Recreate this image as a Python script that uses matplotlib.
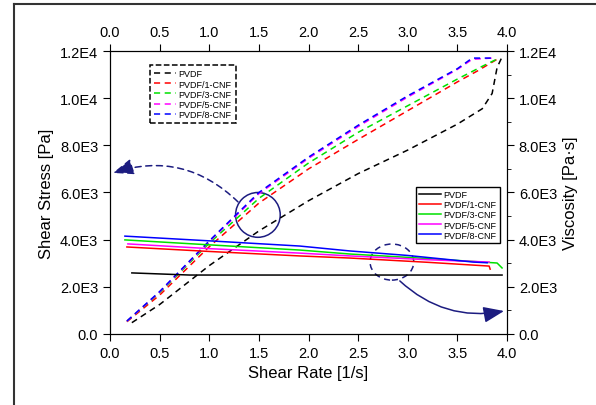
import matplotlib

matplotlib.use("Agg")

import matplotlib.pyplot as plt
from matplotlib.lines import Line2D
from matplotlib.patches import Ellipse

plt.rcParams["font.family"] = ["Liberation Sans", "DejaVu Sans"]

labels = ["PVDF", "PVDF/1-CNF", "PVDF/3-CNF", "PVDF/5-CNF", "PVDF/8-CNF"]
colors = ["black", "#ff0000", "#00e000", "#ff00ff", "#0000ff"]

# shear stress (left axis, dashed)
stress_rate = [
    [0.22, 0.5, 1.0, 1.5, 2.0, 2.5, 3.0, 3.5, 3.75, 3.85, 3.9, 3.95],
    [0.17, 0.5, 1.0, 1.5, 2.0, 2.5, 3.0, 3.5, 3.7, 3.9],
    [0.17, 0.5, 1.0, 1.5, 2.0, 2.5, 3.0, 3.5, 3.75, 3.92],
    [0.17, 0.5, 1.0, 1.5, 2.0, 2.5, 3.0, 3.5, 3.65, 3.85],
    [0.17, 0.5, 1.0, 1.5, 2.0, 2.5, 3.0, 3.5, 3.65, 3.85],
]
stress = [
    [480, 1250, 2900, 4370, 5650, 6800, 7800, 8900, 9550, 10200, 11300, 11750],
    [520, 1650, 3700, 5550, 7000, 8250, 9470, 10690, 11150, 11650],
    [540, 1750, 3850, 5750, 7250, 8550, 9680, 10810, 11350, 11700],
    [540, 1780, 3920, 5950, 7450, 8800, 10050, 11220, 11650, 11700],
    [550, 1800, 3950, 6000, 7500, 8850, 10100, 11250, 11700, 11700],
]

# viscosity (right axis, solid)
visc_rate = [
    [0.22, 0.8, 2.0, 3.0, 3.95],
    [0.17, 1.0, 1.91, 2.42, 3.2, 3.82, 3.83],
    [0.15, 1.0, 1.91, 2.42, 3.2, 3.9, 3.95],
    [0.18, 1.0, 1.91, 2.42, 3.2, 3.82],
    [0.15, 1.0, 1.91, 2.42, 3.0, 3.66, 3.8],
]
viscosity = [
    [2590, 2500, 2500, 2500, 2500],
    [3690, 3500, 3310, 3220, 3040, 2880, 2750],
    [3990, 3780, 3560, 3390, 3200, 3010, 2800],
    [3820, 3620, 3430, 3310, 3150, 3050],
    [4150, 3950, 3730, 3520, 3330, 3050, 3020],
]

fig = plt.figure(figsize=(5.96, 4.06), dpi=100)
ax = fig.add_axes([0.1846, 0.1749, 0.6661, 0.697])
ax2 = ax.twinx()

for r, s, c in zip(stress_rate, stress, colors):
    ax.plot(r, s, color=c, lw=1.1, dashes=(4, 3))
for r, v, c in zip(visc_rate, viscosity, colors):
    ax2.plot(r, v, color=c, lw=1.1)

for a in (ax, ax2):
    a.set_xlim(0, 4)
    a.set_ylim(0, 12000)
ax.set_xticks([0, 0.5, 1.0, 1.5, 2.0, 2.5, 3.0, 3.5, 4.0])
yt = [0, 2000, 4000, 6000, 8000, 10000, 12000]
ylab = ["0.0", "2.0E3", "4.0E3", "6.0E3", "8.0E3", "1.0E4", "1.2E4"]
ax.set_yticks(yt, ylab)
ax2.set_yticks(yt, ylab)
ax2.set_yticks(range(1000, 12000, 2000), minor=True)
ax.tick_params(axis="x", top=True, labeltop=True, direction="out", length=5, labelsize=10.5)
ax.tick_params(axis="y", direction="out", length=5, labelsize=10.5)
ax2.tick_params(axis="y", which="both", direction="out", labelsize=10.5)
ax2.tick_params(axis="y", which="major", length=5)
ax2.tick_params(axis="y", which="minor", length=3)

ax.set_xlabel("Shear Rate [1/s]", fontsize=12)
ax.set_ylabel("Shear Stress [Pa]", fontsize=12)
ax2.set_ylabel("Viscosity [Pa·s]", fontsize=12)

dash_handles = [Line2D([], [], color=c, lw=1.1, dashes=(4, 3)) for c in colors]
leg1 = ax.legend(dash_handles, labels, loc="upper left", bbox_to_anchor=(0.09, 0.965),
                 fontsize=6.5, handlelength=2.4, handletextpad=0.3, labelspacing=0.12,
                 borderpad=0.45, fancybox=False, framealpha=1, edgecolor="black")
leg1.get_frame().set_linestyle("--")
leg1.get_frame().set_linewidth(1.1)

solid_handles = [Line2D([], [], color=c, lw=1.1) for c in colors]
leg2 = ax2.legend(solid_handles, labels, loc="upper right", bbox_to_anchor=(0.993, 0.535),
                  fontsize=6.5, handlelength=2.4, handletextpad=0.3, labelspacing=0.12,
                  borderpad=0.35, fancybox=False, framealpha=1, edgecolor="black")
leg2.get_frame().set_linewidth(1.0)

navy = "#1c1c80"
ax.add_patch(Ellipse((1.49, 5050), 0.45, 1900, fill=False, ec=navy, lw=1.1))
ax.add_patch(Ellipse((2.84, 3050), 0.44, 1530, fill=False, ec=navy, lw=1.1, ls=(0, (4, 3))))

ax.annotate("", xy=(0.03, 6830), xytext=(1.29, 5600),
            arrowprops=dict(arrowstyle="-|>,head_length=0.9,head_width=0.35", color=navy,
                            lw=1.1, ls=(0, (4, 3)), mutation_scale=14,
                            connectionstyle="arc3,rad=0.3", shrinkA=0, shrinkB=0))
ax.annotate("", xy=(3.97, 975), xytext=(2.92, 2250),
            arrowprops=dict(arrowstyle="-|>,head_length=0.9,head_width=0.35", color=navy,
                            lw=1.1, mutation_scale=14,
                            connectionstyle="arc3,rad=0.25", shrinkA=0, shrinkB=0))

# figure frame lines
fig.add_artist(Line2D([14 / 596, 1], [1 - 5 / 406] * 2, color="#333333", lw=1.5))
fig.add_artist(Line2D([14 / 596] * 2, [0, 1 - 5 / 406], color="#333333", lw=1.5))

fig.savefig("out.png", dpi=100)
